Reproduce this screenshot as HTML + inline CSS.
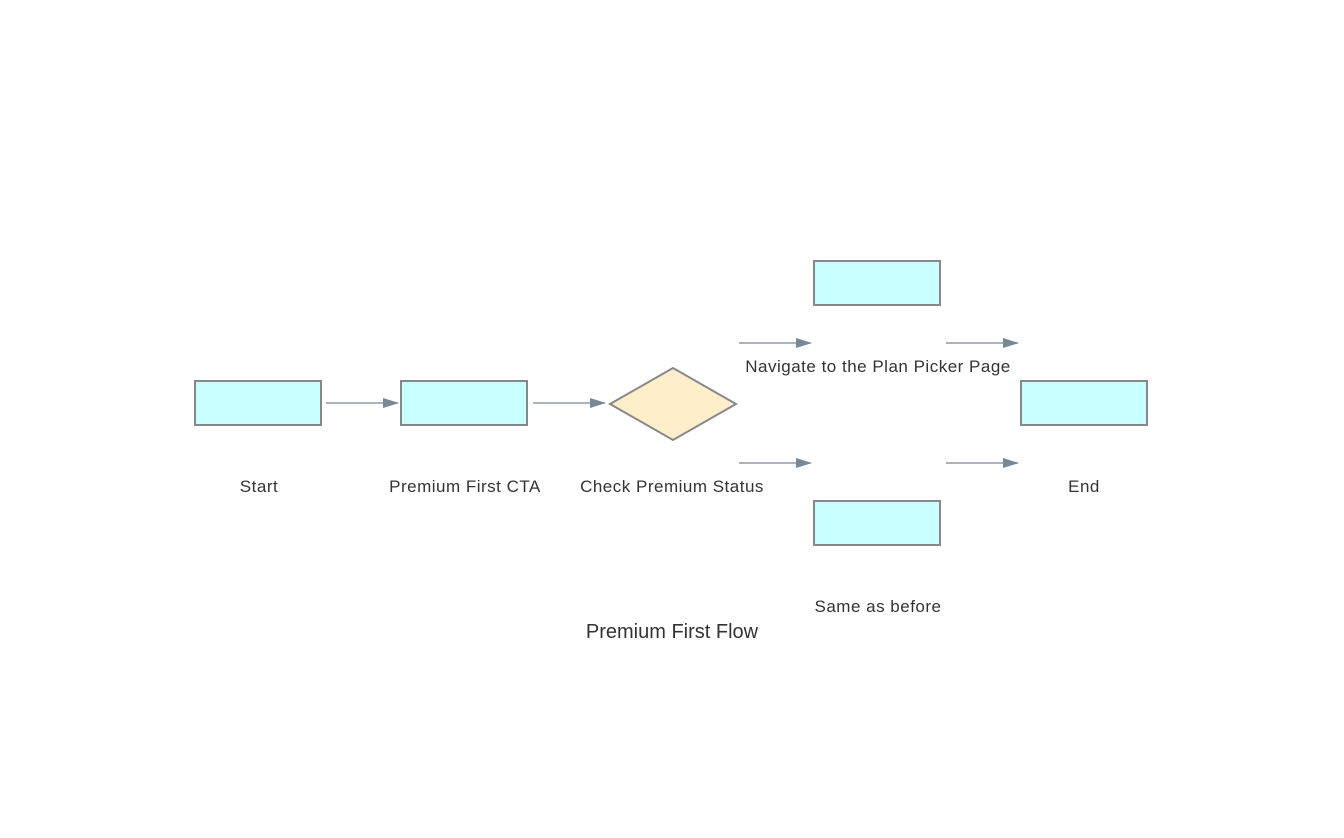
<!DOCTYPE html>
<html><head><meta charset="utf-8"><style>
html,body{margin:0;padding:0;background:#fff;}
svg{display:block;}
text{font-family:"Liberation Sans",Arial,sans-serif;fill:#333;}
</style></head><body>
<svg width="1344" height="838" viewBox="0 0 1344 838" xmlns="http://www.w3.org/2000/svg">
<defs>
<marker id="a" markerWidth="16" markerHeight="10" refX="15" refY="5" orient="auto" markerUnits="userSpaceOnUse">
<path d="M0,0 L16,5 L0,10 Z" fill="#778899"/>
</marker>
</defs>
<g fill="#c8ffff" stroke="#888" stroke-width="2">
<rect x="195" y="381" width="126" height="44"/>
<rect x="401" y="381" width="126" height="44"/>
<rect x="814" y="261" width="126" height="44"/>
<rect x="814" y="501" width="126" height="44"/>
<rect x="1021" y="381" width="126" height="44"/>
</g>
<polygon points="673,368 736,404 673,440 610,404" fill="#ffeecc" stroke="#888" stroke-width="2"/>
<g stroke="#778899" stroke-width="1.3" marker-end="url(#a)">
<line x1="326" y1="403" x2="398" y2="403"/>
<line x1="533" y1="403" x2="605" y2="403"/>
<line x1="739" y1="343" x2="811" y2="343"/>
<line x1="946" y1="343" x2="1018" y2="343"/>
<line x1="739" y1="463" x2="811" y2="463"/>
<line x1="946" y1="463" x2="1018" y2="463"/>
</g>
<g font-size="17" letter-spacing="0.5" text-anchor="middle">
<text x="259" y="492">Start</text>
<text x="465" y="492">Premium First CTA</text>
<text x="672" y="492">Check Premium Status</text>
<text x="878" y="372">Navigate to the Plan Picker Page</text>
<text x="878" y="612">Same as before</text>
<text x="1084" y="492">End</text>
</g>
<text x="672" y="638" font-size="20" text-anchor="middle">Premium First Flow</text>
</svg>
</body></html>
